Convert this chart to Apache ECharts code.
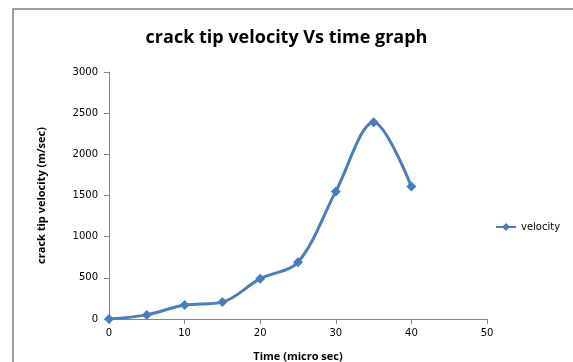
<!DOCTYPE html>
<html>
<head>
<meta charset="utf-8">
<script src="https://cdn.jsdelivr.net/npm/echarts@6/dist/echarts.min.js"></script>
<style>
  html, body { margin: 0; padding: 0; background: #fff; }
  #chart { width: 573px; height: 362px; }
</style>
</head>
<body>
<div id="chart"></div>
<script>
// Crack tip velocity measured every 5 microseconds
const timeMicroSec = [0, 5, 10, 15, 20, 25, 30, 35, 40];
const velocity = [0, 50, 170, 205, 490, 690, 1550, 2390, 1610];
const xTicks = [0, 10, 20, 30, 40, 50];
const yTicks = [0, 500, 1000, 1500, 2000, 2500, 3000];

const chart = echarts.init(document.getElementById('chart'), null, { renderer: 'canvas' });

const labelFont = { fontFamily: 'DejaVu Sans', fontSize: 10, color: '#000' };
const boldFont = { fontFamily: 'Open Sans', fontWeight: 'bold', color: '#000' };

chart.setOption({
  animation: false,
  backgroundColor: '#fff',
  title: {
    text: 'crack tip velocity Vs time graph',
    left: 'center',
    top: 24,
    textStyle: Object.assign({}, boldFont, { fontSize: 18 })
  },
  graphic: [{
    type: 'polyline',
    shape: { points: [[13, 362], [13, 9], [573, 9]] },
    style: { stroke: '#808080', lineWidth: 1.5, fill: null },
    silent: true
  }],
  legend: {
    data: ['velocity'],
    left: 490,
    top: 217,
    itemWidth: 20,
    itemHeight: 10,
    itemGap: 4,
    textStyle: Object.assign({}, labelFont, { padding: [0, 0, 0, 0] })
  },
  grid: { left: 109, right: 86, top: 72, bottom: 43, outerBoundsMode: 'none', containLabel: false },
  xAxis: {
    type: 'value',
    min: xTicks[0],
    max: xTicks[xTicks.length - 1],
    interval: 10,
    name: 'Time (micro sec)',
    nameLocation: 'middle',
    nameGap: 32,
    nameTextStyle: Object.assign({}, boldFont, { fontSize: 11 }),
    axisLine: { show: true, lineStyle: { color: '#868686', width: 1 } },
    axisTick: { show: true, length: 5, lineStyle: { color: '#868686' } },
    axisLabel: Object.assign({ margin: 9 }, labelFont),
    splitLine: { show: false }
  },
  yAxis: {
    type: 'value',
    min: yTicks[0],
    max: yTicks[yTicks.length - 1],
    interval: 500,
    name: 'crack tip velocity (m/sec)',
    nameLocation: 'middle',
    nameGap: 62,
    nameTextStyle: Object.assign({}, boldFont, { fontSize: 11 }),
    axisLine: { show: true, lineStyle: { color: '#868686', width: 1 } },
    axisTick: { show: true, length: 5, lineStyle: { color: '#868686' } },
    axisLabel: Object.assign({ margin: 11, formatter: v => String(v) }, labelFont),
    splitLine: { show: false }
  },
  series: [{
    name: 'velocity',
    type: 'line',
    data: timeMicroSec.map((t, i) => [t, velocity[i]]),
    smooth: 0.33,
    symbol: 'diamond',
    symbolSize: 10,
    itemStyle: { color: '#4A7EBB' },
    lineStyle: { color: '#4A7EBB', width: 3 }
  }]
});
</script>
</body>
</html>
